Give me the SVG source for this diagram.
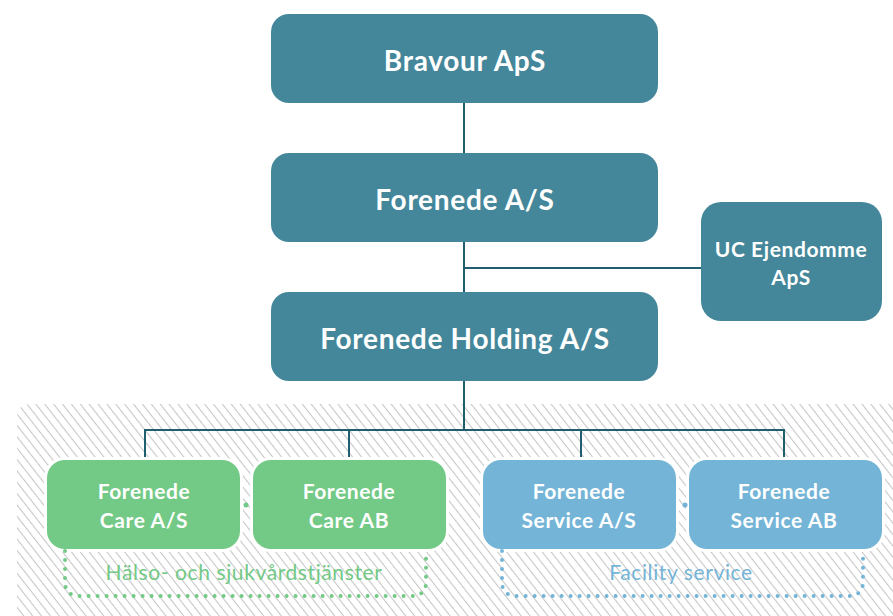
<svg xmlns="http://www.w3.org/2000/svg" width="893" height="616" viewBox="0 0 893 616">
<style>
.teal{fill:#44879a}
.green{fill:#73c986}
.blue{fill:#74b4d7}
.t{font-family:Lato,"Open Sans","Liberation Sans",sans-serif;font-weight:bold;fill:#fff;text-anchor:middle}
.big{font-size:28px;letter-spacing:0.7px}
.sm{font-size:21px;letter-spacing:0.6px}
.lbl{font-family:Lato,"Open Sans","Liberation Sans",sans-serif;font-weight:normal;font-size:21px;letter-spacing:0.6px;text-anchor:middle}
.conn{stroke:#1e5e6f;stroke-width:2;fill:none}
.dotg{stroke:#73c986;stroke-width:4;stroke-linecap:round;stroke-dasharray:0 9;fill:none}
.dotb{stroke:#74b4d7;stroke-width:4;stroke-linecap:round;stroke-dasharray:0 9;fill:none}
</style>
<defs>
<pattern id="hatch" patternUnits="userSpaceOnUse" width="7" height="8" patternTransform="rotate(-38)">
<line x1="3.5" y1="0" x2="3.5" y2="8" stroke="#c6c6c6" stroke-width="1.1"/>
</pattern>
</defs>
<rect width="893" height="616" fill="#fff"/>
<path d="M17,616 V418 Q17,404 31,404 H893 V616 Z" fill="url(#hatch)"/>
<g id="connectors">
<line class="conn" x1="464" y1="103" x2="464" y2="153"/>
<line class="conn" x1="464" y1="242" x2="464" y2="292"/>
<line class="conn" x1="464" y1="268" x2="702" y2="268"/>
<line class="conn" x1="464" y1="381" x2="464" y2="430"/>
<polyline class="conn" points="145,461 145,430 784,430 784,461"/>
<line class="conn" x1="349" y1="430" x2="349" y2="461"/>
<line class="conn" x1="581" y1="430" x2="581" y2="461"/>
</g>
<g id="bravour"><rect class="teal" x="271" y="14" width="387" height="89" rx="18"/><text class="t big" x="465" y="71">Bravour ApS</text></g>
<g id="forenede"><rect class="teal" x="271" y="153" width="387" height="89" rx="18"/><text class="t big" x="465" y="210">Forenede A/S</text></g>
<g id="holding"><rect class="teal" x="271" y="292" width="387" height="89" rx="18"/><text class="t big" x="465" y="349">Forenede Holding A/S</text></g>
<g id="uc"><rect class="teal" x="701" y="202" width="181" height="119" rx="20"/><text class="t sm" x="791" y="257">UC Ejendomme</text><text class="t sm" x="791" y="285">ApS</text></g>
<g id="care-as"><rect fill="#fff" x="44" y="457" width="199" height="95" rx="21"/><rect class="green" x="47" y="460" width="193" height="89" rx="18"/><text class="t sm" x="144" y="499">Forenede</text><text class="t sm" x="144" y="528">Care A/S</text></g>
<g id="care-ab"><rect fill="#fff" x="250" y="457" width="199" height="95" rx="21"/><rect class="green" x="253" y="460" width="193" height="89" rx="18"/><text class="t sm" x="349" y="499">Forenede</text><text class="t sm" x="349" y="528">Care AB</text></g>
<g id="service-as"><rect fill="#fff" x="480" y="457" width="199" height="95" rx="21"/><rect class="blue" x="483" y="460" width="193" height="89" rx="18"/><text class="t sm" x="579" y="499">Forenede</text><text class="t sm" x="579" y="528">Service A/S</text></g>
<g id="service-ab"><rect fill="#fff" x="686" y="457" width="199" height="95" rx="21"/><rect class="blue" x="689" y="460" width="193" height="89" rx="18"/><text class="t sm" x="784" y="499">Forenede</text><text class="t sm" x="784" y="528">Service AB</text></g>
<g id="group-health">
<circle cx="246" cy="505" r="2.5" fill="#73c986"/>
<path class="dotg" d="M65,551 V582 Q65,596 80,596 H411 Q426,596 426,582 V551"/>
<text class="lbl" x="244" y="580" fill="#73c986">Hälso- och sjukvårdstjänster</text>
</g>
<g id="group-facility">
<circle cx="685" cy="505" r="2.5" fill="#74b4d7"/>
<path class="dotb" d="M502,551 V582 Q502,596 517,596 H848 Q863,596 863,582 V551"/>
<text class="lbl" x="681" y="580" fill="#74b4d7">Facility service</text>
</g>
</svg>
